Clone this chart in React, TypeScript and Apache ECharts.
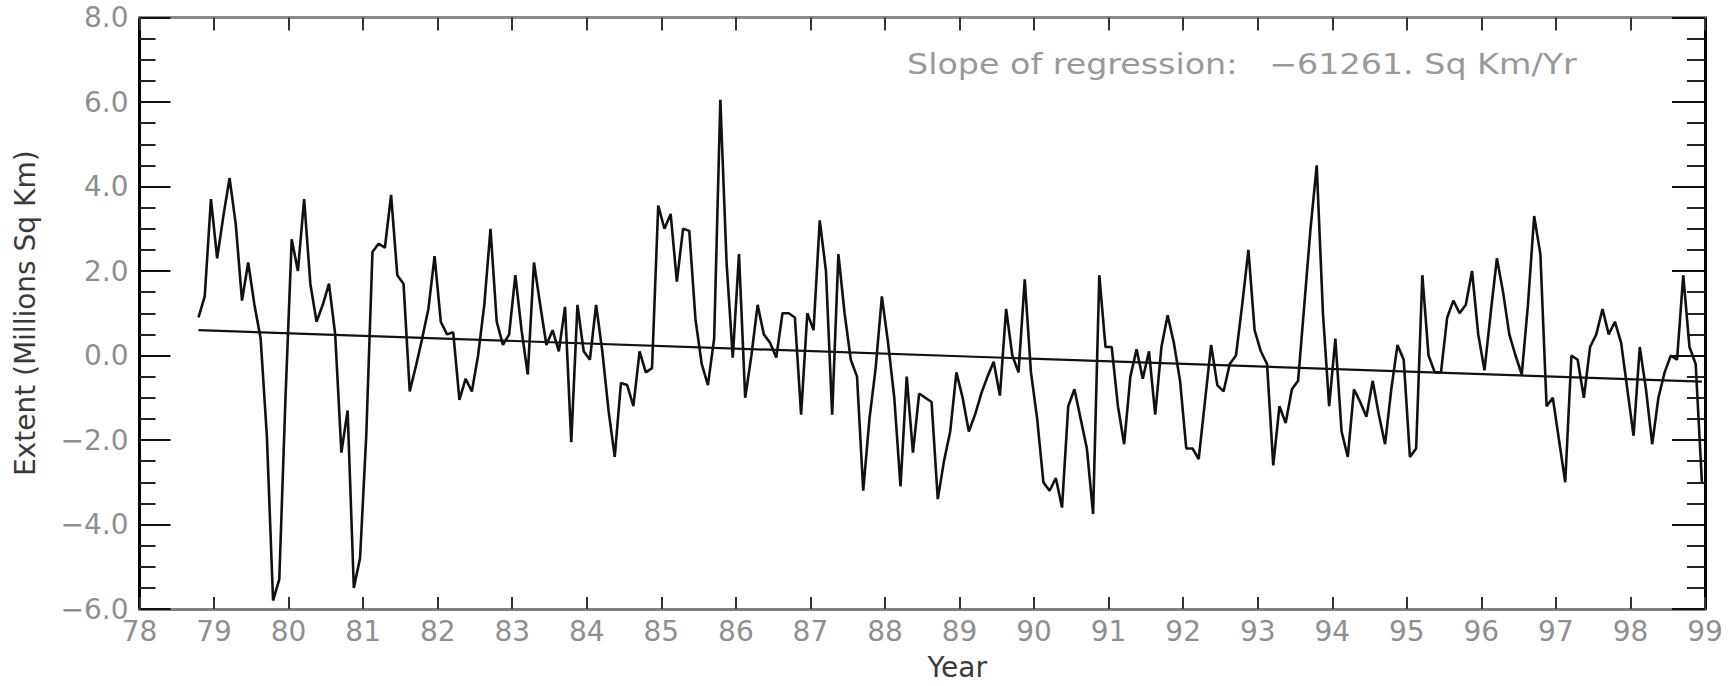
import React, { useEffect, useRef } from "react";
import * as echarts from "echarts";

// Monthly sea-ice extent anomalies (millions of sq km), Oct 1978 - Dec 1998
const firstYear = 1978;
const firstMonth = 10; // October 1978
const ext1978 = [0.9, 1.4, 3.7];
const ext1979 = [2.3, 3.3, 4.2, 3.1, 1.3, 2.2, 1.2, 0.4, -1.9, -5.8, -5.3, -1.0];
const ext1980 = [2.75, 2.0, 3.7, 1.7, 0.8, 1.2, 1.7, 0.5, -2.3, -1.3, -5.5, -4.8];
const ext1981 = [-1.9, 2.45, 2.65, 2.55, 3.8, 1.9, 1.7, -0.85, -0.25, 0.4, 1.1, 2.35];
const ext1982 = [0.8, 0.5, 0.55, -1.05, -0.55, -0.85, 0.0, 1.2, 3.0, 0.8, 0.25, 0.5];
const ext1983 = [1.9, 0.6, -0.45, 2.2, 1.2, 0.25, 0.6, 0.1, 1.15, -2.05, 1.2, 0.1];
const ext1984 = [-0.1, 1.2, 0.1, -1.3, -2.4, -0.65, -0.7, -1.2, 0.1, -0.4, -0.3, 3.55];
const ext1985 = [3.0, 3.35, 1.75, 3.0, 2.95, 0.85, -0.2, -0.7, 0.4, 6.05, 2.2, -0.05];
const ext1986 = [2.4, -1.0, 0.0, 1.2, 0.5, 0.3, -0.05, 1.0, 1.0, 0.9, -1.4, 1.0];
const ext1987 = [0.6, 3.2, 2.0, -1.4, 2.4, 1.0, -0.1, -0.5, -3.2, -1.5, -0.3, 1.4];
const ext1988 = [0.3, -1.0, -3.1, -0.5, -2.3, -0.9, -1.0, -1.1, -3.4, -2.5, -1.8, -0.4];
const ext1989 = [-1.0, -1.8, -1.4, -0.9, -0.5, -0.15, -0.95, 1.1, 0.0, -0.4, 1.8, -0.4];
const ext1990 = [-1.5, -3.0, -3.2, -2.9, -3.6, -1.2, -0.8, -1.5, -2.2, -3.75, 1.9, 0.2];
const ext1991 = [0.2, -1.2, -2.1, -0.5, 0.15, -0.55, 0.1, -1.4, 0.2, 0.95, 0.3, -0.6];
const ext1992 = [-2.2, -2.2, -2.45, -1.1, 0.25, -0.7, -0.85, -0.2, 0.0, 1.2, 2.5, 0.6];
const ext1993 = [0.1, -0.2, -2.6, -1.2, -1.6, -0.8, -0.6, 1.2, 3.0, 4.5, 1.0, -1.2];
const ext1994 = [0.4, -1.8, -2.4, -0.8, -1.1, -1.45, -0.6, -1.4, -2.1, -0.8, 0.25, -0.1];
const ext1995 = [-2.4, -2.2, 1.9, 0.0, -0.4, -0.4, 0.9, 1.3, 1.0, 1.2, 2.0, 0.5];
const ext1996 = [-0.35, 1.0, 2.3, 1.5, 0.5, 0.0, -0.45, 1.2, 3.3, 2.4, -1.2, -1.0];
const ext1997 = [-2.0, -3.0, 0.0, -0.1, -1.0, 0.2, 0.5, 1.1, 0.5, 0.8, 0.3, -0.8];
const ext1998 = [-1.9, 0.2, -0.8, -2.1, -1.0, -0.4, 0.0, -0.1, 1.9, 0.2, -0.2, -3.0];

const yearlyExtents = [
  ext1978, ext1979, ext1980, ext1981, ext1982, ext1983, ext1984, ext1985,
  ext1986, ext1987, ext1988, ext1989, ext1990, ext1991, ext1992, ext1993,
  ext1994, ext1995, ext1996, ext1997, ext1998,
];

// Regression line end values
const regressionStartValue = 0.6;
const regressionEndValue = -0.62;
const slopeLabel = "Slope of regression:   \u221261261. Sq Km/Yr";

// Axis ticks
const xMin = 78;
const xMax = 99;
const yMin = -6;
const yMax = 8;
const yStep = 2;

const FONT = "'DejaVu Sans', 'Liberation Sans', sans-serif";

function buildPoints(): number[][] {
  const pts: number[][] = [];
  yearlyExtents.forEach((vals, k) => {
    const yr = firstYear + k - 1900;
    const m0 = k === 0 ? firstMonth : 1;
    vals.forEach((v, j) => {
      pts.push([yr + (m0 + j - 0.5) / 12, v]);
    });
  });
  return pts;
}

export default function App() {
  const ref = useRef<HTMLDivElement>(null);
  useEffect(() => {
    if (!ref.current) return;
    const chart = echarts.init(ref.current, null, { renderer: "svg" });
    const points = buildPoints();
    const regression = [
      [points[0][0], regressionStartValue],
      [points[points.length - 1][0], regressionEndValue],
    ];
    const yFmt = (v: number) => v.toFixed(1).replace("-", "\u2212");
    const baseY = {
      type: "value" as const,
      min: yMin,
      max: yMax,
      interval: yStep,
      splitLine: { show: false },
      minorSplitLine: { show: false },
    };
    const baseX = {
      type: "value" as const,
      min: xMin,
      max: xMax,
      interval: 1,
      splitLine: { show: false },
    };
    chart.setOption({
      animation: false,
      backgroundColor: "#ffffff",
      grid: { left: 139.5, right: 29, top: 17.5, bottom: 73, containLabel: false },
      xAxis: [
        {
          ...baseX,
          position: "bottom",
          name: "Year",
          nameLocation: "middle",
          nameGap: 44,
          nameTextStyle: {
            fontFamily: FONT,
            fontSize: 28,
            color: "#3a3a3a",
            padding: [0, 0, 0, 70],
          },
          axisLine: { show: true, onZero: false, lineStyle: { color: "#808080", width: 3 } },
          axisTick: { show: true, inside: true, length: 12, lineStyle: { color: "#333", width: 2 } },
          axisLabel: {
            margin: 8,
            fontFamily: FONT,
            fontSize: 28,
            color: "#8f8f8f",
            formatter: (v: number) => String(v),
          },
        },
        {
          ...baseX,
          position: "top",
          axisLine: { show: true, onZero: false, lineStyle: { color: "#8a8a8a", width: 3 } },
          axisTick: { show: true, inside: true, length: 13, lineStyle: { color: "#333", width: 2 } },
          axisLabel: { show: false },
        },
      ],
      yAxis: [
        {
          ...baseY,
          position: "left",
          name: "Extent (Millions Sq Km)",
          nameLocation: "middle",
          nameGap: 100,
          nameTextStyle: { fontFamily: FONT, fontSize: 28, color: "#3a3a3a" },
          axisLine: { show: true, onZero: false, lineStyle: { color: "#000", width: 3 } },
          axisTick: { show: true, inside: true, length: 31, lineStyle: { color: "#111", width: 2 } },
          minorTick: { show: true, splitNumber: 4, length: 16, lineStyle: { color: "#222", width: 2 } },
          axisLabel: { margin: 11, fontFamily: FONT, fontSize: 28, color: "#8f8f8f", formatter: yFmt },
        },
        {
          ...baseY,
          position: "right",
          axisLine: { show: true, onZero: false, lineStyle: { color: "#000", width: 3 } },
          axisTick: { show: true, inside: true, length: 33, lineStyle: { color: "#111", width: 2 } },
          minorTick: { show: true, splitNumber: 4, length: 18, lineStyle: { color: "#222", width: 2 } },
          axisLabel: { show: false },
        },
      ],
      series: [
        {
          type: "line",
          name: "Extent anomaly",
          xAxisIndex: 0,
          yAxisIndex: 0,
          data: points,
          symbol: "none",
          lineStyle: { color: "#111", width: 2.6 },
          z: 3,
        },
        {
          type: "line",
          name: "Regression",
          xAxisIndex: 0,
          yAxisIndex: 0,
          data: regression,
          symbol: "none",
          lineStyle: { color: "#111", width: 2.2 },
          z: 4,
        },
      ],
      graphic: [
        {
          type: "text",
          x: 907,
          y: 64,
          scaleX: 1.19,
          style: {
            text: slopeLabel,
            font: `28px ${FONT}`,
            fill: "#999999",
            verticalAlign: "middle",
            align: "left",
          },
        },
      ],
    });
    return () => chart.dispose();
  }, []);
  return (
    <div
      ref={ref}
      style={{ position: "fixed", left: 0, top: 0, width: 1734, height: 686, background: "#fff" }}
    />
  );
}
